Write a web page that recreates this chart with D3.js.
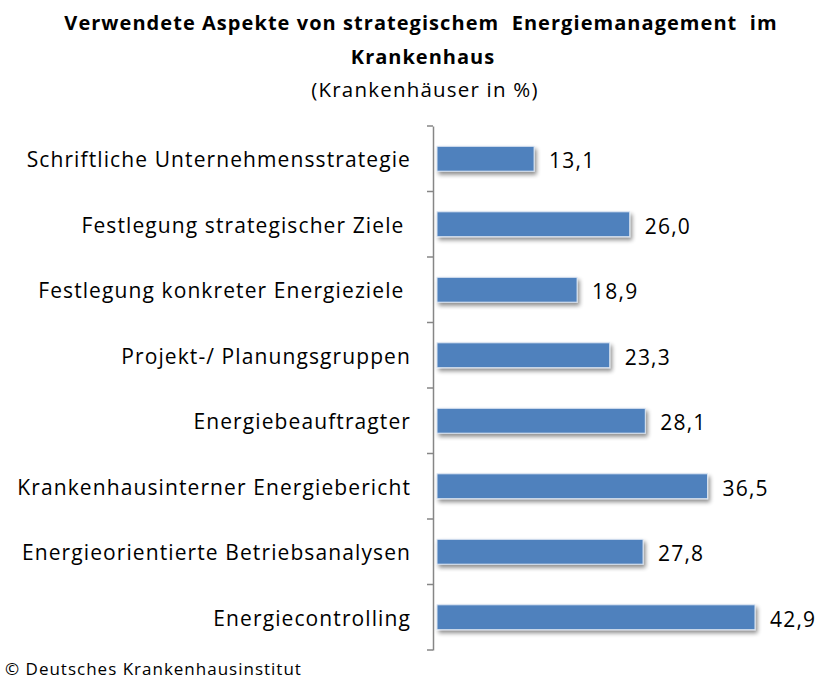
<!DOCTYPE html>
<html><head><meta charset="utf-8">
<script src="https://cdn.jsdelivr.net/npm/d3@7"></script>
<style>body{margin:0;background:#fff}svg{display:block}text{font-family:"Open Sans",Lato,sans-serif}</style>
</head><body><svg id="c" width="820" height="679"></svg>
<script>
const categories = ["Schriftliche Unternehmensstrategie","Festlegung strategischer Ziele ","Festlegung konkreter Energieziele ","Projekt-/ Planungsgruppen","Energiebeauftragter","Krankenhausinterner Energiebericht","Energieorientierte Betriebsanalysen","Energiecontrolling"];
const values = [13.1,26.0,18.9,23.3,28.1,36.5,27.8,42.9];
const titleLines = ["Verwendete Aspekte von strategischem  Energiemanagement  im","Krankenhaus"];
const subtitle = "(Krankenhäuser in %)";
const footer = "© Deutsches Krankenhausinstitut";

const svg = d3.select("#c");
const defs = svg.append("defs");
const f = defs.append("filter").attr("id","sh").attr("x","-10%").attr("y","-30%").attr("width","130%").attr("height","180%");
f.append("feGaussianBlur").attr("in","SourceAlpha").attr("stdDeviation",2);
f.append("feOffset").attr("dx",2).attr("dy",3).attr("result","b");
f.append("feComponentTransfer").append("feFuncA").attr("type","linear").attr("slope",0.45);
const m = f.append("feMerge"); m.append("feMergeNode"); m.append("feMergeNode").attr("in","SourceGraphic");

const x0 = 433;
const x = d3.scaleLinear().domain([0,42.9]).range([x0+4,755]);
const y = d3.scaleBand().domain(categories).range([126,650]).paddingInner(0.62).paddingOuter(0.31);

svg.append("text").attr("x",421).attr("y",30).attr("text-anchor","middle").attr("font-weight","bold").attr("font-size",20).attr("letter-spacing",1.05).style("white-space","pre").text(titleLines[0]);
svg.append("text").attr("x",423).attr("y",64).attr("text-anchor","middle").attr("font-weight","bold").attr("font-size",20).attr("letter-spacing",1.0).text(titleLines[1]);
svg.append("text").attr("x",425).attr("y",97).attr("text-anchor","middle").attr("font-size",20.5).attr("letter-spacing",1.2).text(subtitle);

// axis
const yAx = d3.scaleBand().domain(categories).range([126,650]);
const ax = svg.append("g").attr("transform",`translate(${x0},0)`)
  .call(d3.axisLeft(yAx).tickSize(0).tickFormat(""));
ax.select(".domain").attr("stroke","#868686").attr("stroke-width",1.5);
ax.selectAll(".tick").remove();
const edges = categories.map(c=>yAx(c)).concat([650]);
svg.append("g").selectAll("line").data(edges).join("line")
  .attr("x1",x0-6).attr("x2",x0).attr("y1",d=>d).attr("y2",d=>d)
  .attr("stroke","#868686").attr("stroke-width",1.5);

svg.append("g").selectAll("text").data(categories).join("text")
  .attr("x",411).attr("y",d=>yAx(d)+yAx.bandwidth()/2+1).attr("dy","0.35em")
  .attr("text-anchor","end").attr("font-size",21).attr("letter-spacing",1.1).attr("fill","#000").style("white-space","pre").text(d=>d);

svg.append("g").selectAll("rect").data(values).join("rect")
  .attr("x",x(0)).attr("y",(d,i)=>y(categories[i])).attr("width",d=>x(d)-x(0)).attr("height",y.bandwidth())
  .attr("fill","#4F81BD").attr("stroke","#DCE6F2").attr("stroke-width",1).attr("filter","url(#sh)");

svg.append("g").selectAll("text").data(values).join("text")
  .attr("x",d=>x(d)+15).attr("y",(d,i)=>y(categories[i])+y.bandwidth()/2+2).attr("dy","0.35em")
  .attr("font-size",21).attr("letter-spacing",1.2).text(d=>d.toFixed(1).replace(".",","));

svg.append("text").attr("x",5).attr("y",675).attr("font-size",17).attr("letter-spacing",1.0).text(footer);
</script></body></html>
